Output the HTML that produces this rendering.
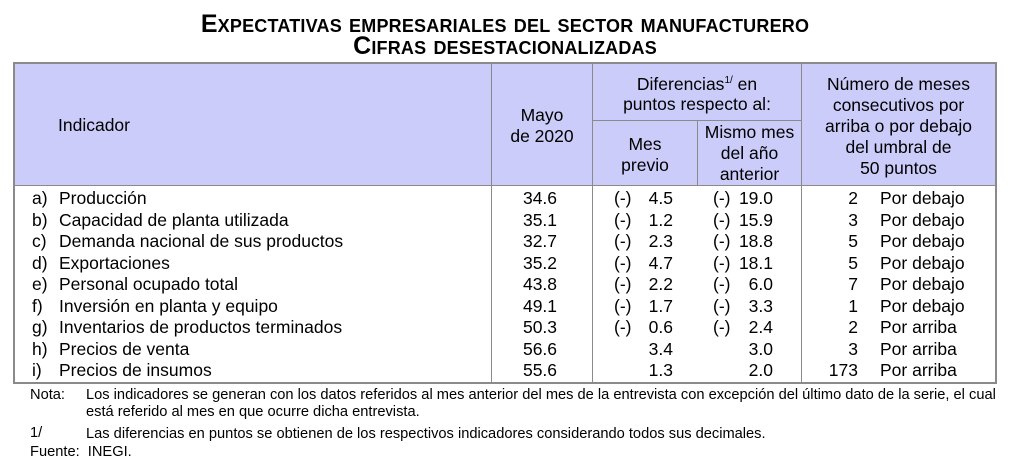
<!DOCTYPE html>
<html><head><meta charset="utf-8"><style>
body{margin:0;width:1024px;height:464px;background:#fff;font-family:"Liberation Sans",Arial,sans-serif;color:#000;position:relative;overflow:hidden}
.a{position:absolute;white-space:nowrap;line-height:20px}
.t{position:absolute;left:0;width:1010px;text-align:center;font-weight:bold;font-variant:small-caps;font-size:25px;line-height:24px;letter-spacing:0.2px}
.hdr{position:absolute;background:#ccccfa}
.l{position:absolute;background:#8a8a8a}
.c{text-align:center}
.r{text-align:right}
.f{font-size:17.5px}
.n{font-size:14.65px;line-height:18px}
</style></head><body>
<div class="t" style="top:12px">Expectativas empresariales del sector manufacturero</div>
<div class="t" style="top:34px">Cifras desestacionalizadas</div>

<div class="hdr" style="left:14px;top:63px;width:982px;height:123px"></div>
<div class="l" style="left:13px;top:62px;width:984px;height:2px"></div>
<div class="l" style="left:13px;top:185px;width:984px;height:1px"></div>
<div class="l" style="left:13px;top:382px;width:984px;height:2px"></div>
<div class="l" style="left:13px;top:62px;width:2px;height:322px"></div>
<div class="l" style="left:995px;top:62px;width:2px;height:322px"></div>
<div class="l" style="left:491px;top:62px;width:1px;height:322px"></div>
<div class="l" style="left:592px;top:62px;width:1px;height:322px"></div>
<div class="l" style="left:801px;top:62px;width:1px;height:322px"></div>
<div class="l" style="left:697px;top:120px;width:1px;height:66px"></div>
<div class="l" style="left:592px;top:120px;width:210px;height:1px"></div>

<div class="a f" style="left:58px;top:115px">Indicador</div>
<div class="a f c" style="left:492px;width:100px;top:105px">Mayo</div>
<div class="a f c" style="left:492px;width:100px;top:126px">de 2020</div>
<div class="a f c" style="left:593px;width:208px;top:74px">Diferencias<sup style="font-size:10px;line-height:0">1/</sup> en</div>
<div class="a f c" style="left:593px;width:208px;top:94px">puntos respecto al:</div>
<div class="a f c" style="left:593px;width:104px;top:134px">Mes</div>
<div class="a f c" style="left:593px;width:104px;top:155px">previo</div>
<div class="a f c" style="left:698px;width:103px;top:122px">Mismo mes</div>
<div class="a f c" style="left:698px;width:103px;top:143px">del año</div>
<div class="a f c" style="left:698px;width:103px;top:164px">anterior</div>
<div class="a f c" style="left:802px;width:193px;top:74px">Número de meses</div>
<div class="a f c" style="left:802px;width:193px;top:95px">consecutivos por</div>
<div class="a f c" style="left:802px;width:193px;top:116px">arriba o por debajo</div>
<div class="a f c" style="left:802px;width:193px;top:137px">del umbral de</div>
<div class="a f c" style="left:802px;width:193px;top:158px">50 puntos</div>

<div id="rows"></div>
<script>
var d=[["a)","Producción","34.6","(-)","4.5","(-)","19.0","2","Por debajo"],
["b)","Capacidad de planta utilizada","35.1","(-)","1.2","(-)","15.9","3","Por debajo"],
["c)","Demanda nacional de sus productos","32.7","(-)","2.3","(-)","18.8","5","Por debajo"],
["d)","Exportaciones","35.2","(-)","4.7","(-)","18.1","5","Por debajo"],
["e)","Personal ocupado total","43.8","(-)","2.2","(-)","6.0","7","Por debajo"],
["f)","Inversión en planta y equipo","49.1","(-)","1.7","(-)","3.3","1","Por debajo"],
["g)","Inventarios de productos terminados","50.3","(-)","0.6","(-)","2.4","2","Por arriba"],
["h)","Precios de venta","56.6","","3.4","","3.0","3","Por arriba"],
["i)","Precios de insumos","55.6","","1.3","","2.0","173","Por arriba"]];
var h="";
d.forEach(function(r,i){var t=188+i*21.5;
h+='<div class="a f" style="left:32px;top:'+t+'px">'+r[0]+'</div>';
h+='<div class="a f" style="left:59px;top:'+t+'px">'+r[1]+'</div>';
h+='<div class="a f c" style="left:492px;width:96px;top:'+t+'px">'+r[2]+'</div>';
h+='<div class="a f" style="left:614px;top:'+t+'px">'+r[3]+'</div>';
h+='<div class="a f r" style="left:620px;width:53px;top:'+t+'px">'+r[4]+'</div>';
h+='<div class="a f" style="left:713px;top:'+t+'px">'+r[5]+'</div>';
h+='<div class="a f r" style="left:720px;width:53px;top:'+t+'px">'+r[6]+'</div>';
h+='<div class="a f r" style="left:810px;width:48px;top:'+t+'px">'+r[7]+'</div>';
h+='<div class="a f" style="left:880px;top:'+t+'px">'+r[8]+'</div>';});
document.getElementById("rows").innerHTML=h;
</script>

<div class="a n" style="left:30px;top:386px">Nota:</div>
<div class="a n" style="left:86px;top:386px">Los indicadores se generan con los datos referidos al mes anterior del mes de la entrevista con excepción del último dato de la serie, el cual</div>
<div class="a n" style="left:86px;top:403px">está referido al mes en que ocurre dicha entrevista.</div>
<div class="a n" style="left:30px;top:424px">1/</div>
<div class="a n" style="left:86px;top:425px">Las diferencias en puntos se obtienen de los respectivos indicadores considerando todos sus decimales.</div>
<div class="a n" style="left:30px;top:443px">Fuente:&nbsp; INEGI.</div>
</body></html>
